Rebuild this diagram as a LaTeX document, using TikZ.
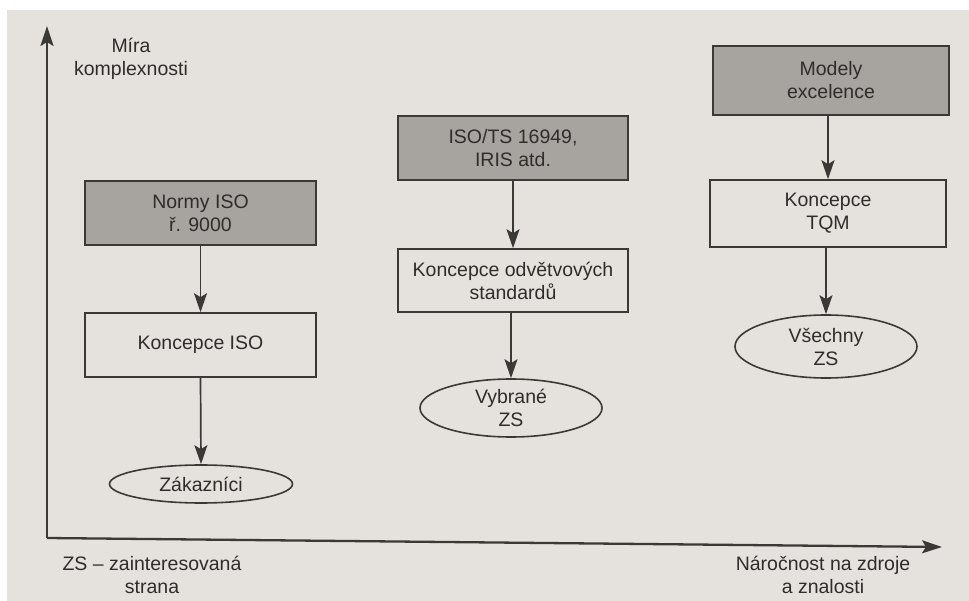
\documentclass[tikz,border=0pt]{standalone}
\usepackage{fontspec}
\setmainfont{Liberation Sans}
\usetikzlibrary{shapes.geometric,arrows.meta}
\definecolor{pagebg}{HTML}{E5E2DD}
\definecolor{boxgray}{HTML}{A7A4A0}
\definecolor{ink}{HTML}{3A3936}
\definecolor{txt}{HTML}{2E2D2A}
\tikzset{
  base/.style={inner sep=0pt, align=center, text=txt, font=\fontsize{19.5}{23}\selectfont},
  graybox/.style={base, draw=ink, line width=1.6pt, fill=boxgray},
  whitebox/.style={base, draw=ink, line width=1.6pt},
  oval/.style={base, ellipse, draw=ink, line width=1.6pt},
  lbl/.style={base},
  arr/.style={draw=ink, line width=1.7pt, -{Stealth[length=19pt,width=13pt,inset=4pt]}},
  axis/.style={draw=ink, line width=2.3pt, -{Stealth[length=20pt,width=13pt,inset=4pt]}},
}
\begin{document}
\begin{tikzpicture}[x=1pt,y=-1pt]
\useasboundingbox (0,0) rectangle (969,601);
\fill[white] (0,0) rectangle (969,601);
\fill[pagebg] (7,10) rectangle (969,601);

% axes
\coordinate (O) at (47,538);
\coordinate (ytop) at (47,26);
\coordinate (xend) at (942,547);
\draw[axis] (O) -- (ytop);
\draw[axis] (O) -- (xend);

% left column
\node[graybox, minimum width=231pt, minimum height=64pt] (normy) at (200.5,213) {Normy ISO\\ř. 9000};
\node[whitebox, minimum width=231pt, minimum height=64pt] (kiso) at (200.5,345) {Koncepce ISO};
\node[oval, minimum width=183pt, minimum height=38pt] (zak) at (201,484) {Zákazníci};

% middle column
\node[graybox, minimum width=230pt, minimum height=64pt] (isots) at (513,148) {ISO/TS 16949,\\IRIS atd.};
\node[whitebox, minimum width=230pt, minimum height=63pt] (odv) at (513,280.5) {Koncepce odvětvových\\standardů};
\node[oval, minimum width=182pt, minimum height=58pt] (vyb) at (511,408) {Vybrané\\ZS};

% right column
\node[graybox, minimum width=236pt, minimum height=69pt] (model) at (831,80.5) {Modely\\excelence};
\node[whitebox, minimum width=236pt, minimum height=67pt] (tqm) at (828,213.5) {Koncepce\\TQM};
\node[oval, minimum width=182pt, minimum height=63pt] (vse) at (826,346.5) {Všechny\\ZS};

% connectors
\draw[arr] (normy.south) -- (kiso.north);
\draw[arr] (kiso.south) -- (zak.north);
\draw[arr] (isots.south -| odv.north) -- (odv.north);
\draw[arr] (odv.south -| vyb.north) -- (vyb.north);
\draw[arr] (model.south -| tqm.north) -- (tqm.north);
\draw[arr] (tqm.south -| vse.north) -- (vse.north);

% labels
\node[lbl] (mira) at (131,58.5) {Míra\\komplexnosti};
\node[lbl] (zs) at (152,575) {ZS – zainteresovaná\\strana};
\node[lbl] (nar) at (823,575) {Náročnost na zdroje\\a znalosti};
\end{tikzpicture}
\end{document}
